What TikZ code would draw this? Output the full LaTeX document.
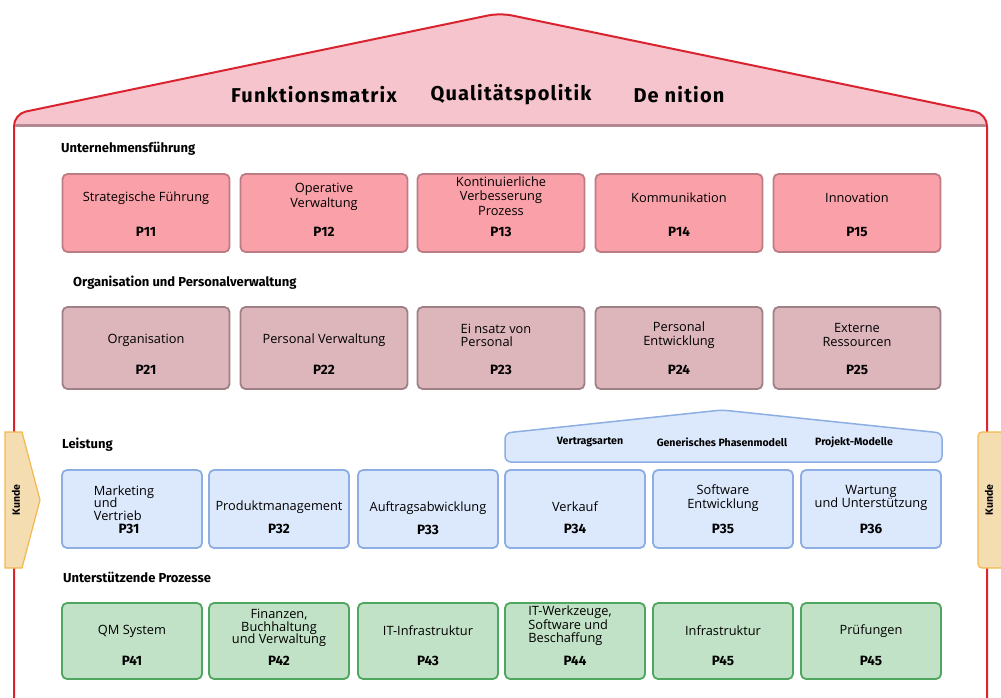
\documentclass[tikz,border=0pt]{standalone}
\usepackage{fontspec}
\setmainfont{Open Sans}
\newfontfamily\headfont{Fira Sans}
\newfontfamily\roofont[LetterSpace=6]{Fira Sans}
\usepackage{tikz}
\usetikzlibrary{positioning,calc}
\definecolor{roofpink}{HTML}{F6C4CC}
\definecolor{framered}{HTML}{D9232F}
\definecolor{roofgray}{HTML}{B48890}
\definecolor{fillA}{HTML}{FAA0A8}
\definecolor{lineA}{HTML}{BC7C84}
\definecolor{fillB}{HTML}{DDB6BC}
\definecolor{lineB}{HTML}{9E8086}
\definecolor{fillC}{HTML}{DCE8FC}
\definecolor{lineC}{HTML}{8CAEE2}
\definecolor{fillD}{HTML}{C1E2C6}
\definecolor{lineD}{HTML}{4FA65E}
\definecolor{kundefill}{HTML}{F5DDB2}
\definecolor{kundeline}{HTML}{F2B84E}
\def\bigroof{(14,698) -- (14,114) -- (500,13) -- (987,114) -- (987,698)}
\def\subroof{(505,462) -- (505,433) -- (722,410) -- (942,433) -- (942,462) -- cycle}
\tikzset{
  box/.style={draw, rounded corners=5, line width=1.8, inner sep=0},
  rowA/.style={box, fill=fillA, draw=lineA, minimum width=167, minimum height=78},
  rowB/.style={box, fill=fillB, draw=lineB, minimum width=167, minimum height=82},
  rowC/.style={box, fill=fillC, draw=lineC, minimum width=140, minimum height=78},
  rowD/.style={box, fill=fillD, draw=lineD, minimum width=140, minimum height=76},
  boxtext/.style={font=\fontsize{12.8}{14.5}\selectfont, align=center, inner sep=0},
  tighttext/.style={font=\fontsize{12.8}{12.8}\selectfont, align=left, inner sep=0},
  pnum/.style={font=\headfont\bfseries\fontsize{13.5}{15}\selectfont, inner sep=0},
  section/.style={font=\headfont\bfseries\fontsize{13}{15}\selectfont, anchor=west, inner sep=0},
  title/.style={font=\roofont\bfseries\fontsize{20}{24}\selectfont, inner sep=0},
  subtitle/.style={font=\headfont\bfseries\fontsize{10.6}{12}\selectfont, inner sep=0},
  kunde/.style={font=\headfont\bfseries\fontsize{10.5}{12}\selectfont, inner sep=0, rotate=90}
}

\begin{document}
\begin{tikzpicture}[x=1pt,y=-1pt]
    \useasboundingbox (0,0) rectangle (1001,698);
    % house and roof
    \begin{scope}
    \clip (0,0) rectangle (1001,127);
    \fill[roofpink, rounded corners=12] \bigroof;
    \end{scope}
    \draw[framered, line width=2, rounded corners=12] \bigroof;
    \draw[roofgray, line width=3] (15,126) -- (986,126);
    \path (314,95) node[title] (fm) {Funktionsmatrix}
    (511,95) node[title] (qp) {Qualitätspolitik}
    (679,95) node[title] (df) {De nition};
    % customer on both sides
    \filldraw[fill=kundefill, draw=kundeline, line width=1.2] (5,432) -- (22,432) -- (40,500) -- (22,568) -- (5,568) -- cycle;
    \filldraw[fill=kundefill, draw=kundeline, line width=1.2, rounded corners=4] (978,432) rectangle (1006,568);
    \node[kunde] (kl) at (16,500) {Kunde};
    \node[kunde] (kr) at (989,500) {Kunde};
    % section titles
    \node[section] (s1) at (61,149) {Unternehmensführung};
    \node[section] (s2) at (73,283) {Organisation und Personalverwaltung};
    \node[section] (s3) at (62,445) {Leistung};
    \node[section] (s4) at (63,577) {Unterstützende Prozesse};
    % Unternehmensfuehrung
    \path (146,213) node[rowA] (p11) {} (146,198) node[boxtext] (t11) {Strategische Führung} (146,232) node[pnum] (n11) {P11};
    \path (324,213) node[rowA] (p12) {} (324,197) node[boxtext] (t12) {Operative\\Verwaltung} (324,232) node[pnum] (n12) {P12};
    \path (501,213) node[rowA] (p13) {} (501,196) node[boxtext] (t13) {Kontinuierliche\\Verbesserung\\Prozess} (501,232) node[pnum] (n13) {P13};
    \path (679,213) node[rowA] (p14) {} (679,198) node[boxtext] (t14) {Kommunikation} (679,232) node[pnum] (n14) {P14};
    \path (857,213) node[rowA] (p15) {} (857,198) node[boxtext] (t15) {Innovation} (857,232) node[pnum] (n15) {P15};
    % Organisation und Personalverwaltung
    \path (146,348) node[rowB] (p21) {} (146,340) node[boxtext] (t21) {Organisation} (146,370) node[pnum] (n21) {P21};
    \path (324,348) node[rowB] (p22) {} (324,340) node[boxtext] (t22) {Personal Verwaltung} (324,370) node[pnum] (n22) {P22};
    \path (501,348) node[rowB] (p23) {} (496,335) node[tighttext] (t23) {Ei nsatz von\\Personal} (501,370) node[pnum] (n23) {P23};
    \path (679,348) node[rowB] (p24) {} (679,335) node[boxtext] (t24) {Personal\\Entwicklung} (679,370) node[pnum] (n24) {P24};
    \path (857,348) node[rowB] (p25) {} (857,335) node[boxtext] (t25) {Externe\\Ressourcen} (857,370) node[pnum] (n25) {P25};
    % Leistung
    \filldraw[fill=fillC, draw=lineC, line width=1.5, rounded corners=6] \subroof;
    \path (590,442) node[subtitle] (va) {Vertragsarten}
    (722,442) node[subtitle] (gp) {Generisches Phasenmodell}
    (854,442) node[subtitle] (pm) {Projekt-Modelle};
    \path (132,509) node[rowC] (p31) {} (124,503) node[tighttext] (t31) {Marketing\\und\\Vertrieb} (129,529) node[pnum] (n31) {P31};
    \path (279,509) node[rowC] (p32) {} (279,507) node[boxtext] (t32) {Produktmanagement} (279,529) node[pnum] (n32) {P32};
    \path (428,509) node[rowC] (p33) {} (428,508) node[boxtext] (t33) {Auftragsabwicklung} (428,530) node[pnum] (n33) {P33};
    \path (575,509) node[rowC] (p34) {} (575,507) node[boxtext] (t34) {Verkauf} (575,529) node[pnum] (n34) {P34};
    \path (723,509) node[rowC] (p35) {} (723,498) node[boxtext] (t35) {Software\\Entwicklung} (723,529) node[pnum] (n35) {P35};
    \path (871,509) node[rowC] (p36) {} (871,498) node[tighttext, align=center] (t36) {Wartung\\und Unterstützung} (871,529) node[pnum] (n36) {P36};
    % Unterstuetzende Prozesse
    \path (132,641) node[rowD] (p41) {} (132,631) node[boxtext] (t41) {QM System} (132,661) node[pnum] (n41) {P41};
    \path (279,641) node[rowD] (p42) {} (279,628) node[tighttext, align=center] (t42) {Finanzen,\\Buchhaltung\\und Verwaltung} (279,661) node[pnum] (n42) {P42};
    \path (428,641) node[rowD] (p43) {} (428,631) node[boxtext] (t43) {IT-Infrastruktur} (428,661) node[pnum] (n43) {P43};
    \path (575,641) node[rowD] (p44) {} (570,626) node[tighttext] (t44) {IT-Werkzeuge,\\Software und\\Beschaffung} (575,661) node[pnum] (n44) {P44};
    \path (723,641) node[rowD] (p45) {} (723,631) node[boxtext] (t45) {Infrastruktur} (723,661) node[pnum] (n45) {P45};
    \path (871,641) node[rowD] (p46) {} (871,631) node[boxtext] (t46) {Prüfungen} (871,661) node[pnum] (n46) {P45};
\end{tikzpicture}
\end{document}
